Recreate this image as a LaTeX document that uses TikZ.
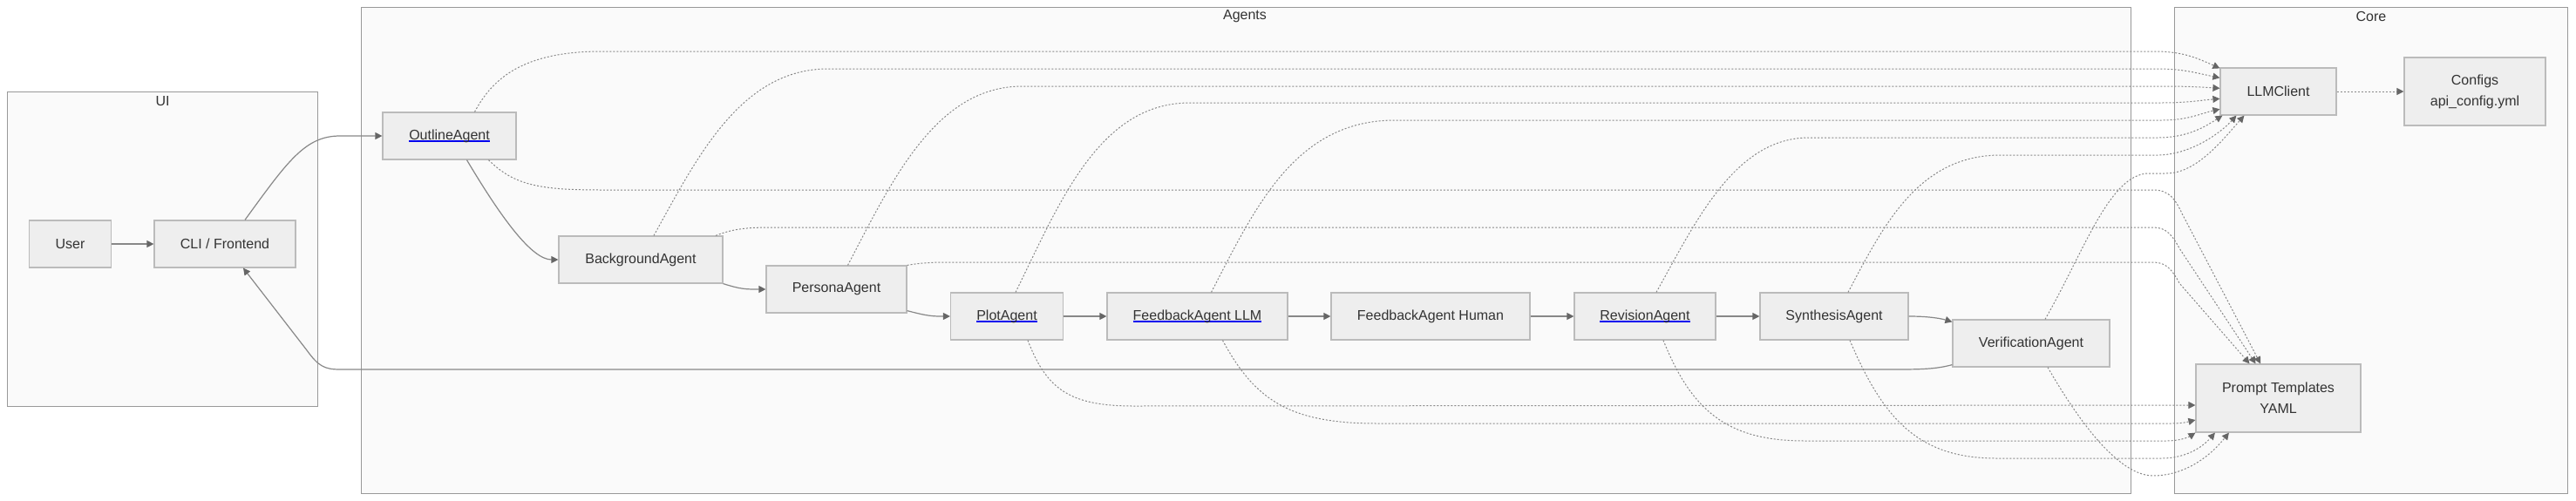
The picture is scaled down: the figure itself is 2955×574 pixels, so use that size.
\documentclass[tikz,border=0pt]{standalone}
\usepackage{fontspec}
\setmainfont{Liberation Sans}
\usetikzlibrary{arrows.meta}

\definecolor{clusterfill}{HTML}{FAFAFA}
\definecolor{clusterline}{HTML}{999999}
\definecolor{nodefill}{HTML}{EEEEEE}
\definecolor{nodeline}{HTML}{BBBBBB}
\definecolor{edgegray}{HTML}{888888}
\definecolor{tipgray}{HTML}{666666}
\definecolor{labelgray}{HTML}{333333}
\definecolor{linkblue}{HTML}{0000EE}

\newlength{\linkwd}
\newcommand{\agentlink}[1]{\settowidth{\linkwd}{#1}\rlap{\color{linkblue}\rule[-2.6pt]{\linkwd}{1.5pt}}#1}

\begin{document}
\begin{tikzpicture}[x=1pt, y=-1pt,
		every node/.style={font=\fontsize{16}{24}\selectfont, text=labelgray},
		cluster/.style={draw=clusterline, fill=clusterfill, line width=1pt},
		agent/.style={draw=nodeline, fill=nodefill, line width=1.2pt, minimum height=54pt, inner sep=0pt, align=center},
		flow/.style={draw=edgegray, line width=1.2pt, -{Triangle[length=8pt, width=8pt, color=tipgray]}},
		uses/.style={draw=edgegray, line width=1pt, dash pattern=on 2pt off 2pt, -{Triangle[length=8pt, width=8pt, color=tipgray]}}]
		\useasboundingbox (0,0) rectangle (2955,574);
		% subgraphs
		\draw[cluster] (8.5,105) rectangle (364.5,466);
		\draw[cluster] (414.5,8) rectangle (2444,566);
		\draw[cluster] (2494.5,8) rectangle (2945,566);
		\node (uititle) at (186.5,116) {UI};
		\node (agentstitle) at (1428,19) {Agents};
		\node (coretitle) at (2720,19) {Core};
		% UI
		\node[agent, minimum width=94pt] (user) at (80.5,280) {User};
		\node[agent, minimum width=162pt] (cli) at (258,280) {CLI / Frontend};
		% Agents
		\node[agent, minimum width=153pt] (outline) at (515.5,156) {\agentlink{OutlineAgent}};
		\node[agent, minimum width=188pt] (background) at (735,298) {BackgroundAgent};
		\node[agent, minimum width=161pt] (persona) at (959.5,332) {PersonaAgent};
		\node[agent, minimum width=129pt] (plot) at (1155,363) {\agentlink{PlotAgent}};
		\node[agent, minimum width=207pt] (fbllm) at (1373.5,363) {\agentlink{FeedbackAgent LLM}};
		\node[agent, minimum width=228pt] (fbhuman) at (1641,363) {FeedbackAgent Human};
		\node[agent, minimum width=162pt] (revision) at (1887,363) {\agentlink{RevisionAgent}};
		\node[agent, minimum width=170pt] (synthesis) at (2104,363) {SynthesisAgent};
		\node[agent, minimum width=180pt] (verification) at (2330,394) {VerificationAgent};
		% Core
		\node[agent, minimum width=133pt] (llm) at (2613.5,105) {LLMClient};
		\node[agent, minimum width=162pt, minimum height=78pt] (configs) at (2839,105) {Configs\\api\_config.yml};
		\node[agent, minimum width=189pt, minimum height=78pt] (pt) at (2613.5,457) {Prompt Templates\\YAML};

		% pipeline
		\draw[flow] (user) -- (cli);
		\draw[flow] ([xshift=23pt]cli.north) .. controls (330,185) and (350,156) .. (390,156) -- (outline);
		\draw[flow] ([xshift=20pt]outline.south) .. controls (575,250) and (610,298) .. (background.west);
		\draw[flow] (background.south east) .. controls (850,332) and (855,332) .. (persona.west);
		\draw[flow] ([yshift=3pt]persona.south east) .. controls (1065,363) and (1070,363) .. (plot.west);
		\draw[flow] (plot) -- (fbllm);
		\draw[flow] (fbllm) -- (fbhuman);
		\draw[flow] (fbhuman) -- (revision);
		\draw[flow] (revision) -- (synthesis);
		\draw[flow] (synthesis.east) .. controls (2215,363) and (2228,366) .. ([yshift=-3pt]verification.north west);
		\draw[flow] ([yshift=3pt]verification.south west) .. controls (2220,424) and (2200,424) .. (2170,424) -- (390,424) .. controls (372,424) and (365,420) .. (352,402) -- ([xshift=21pt]cli.south);
		\draw[uses] (llm) -- (configs);

		% agents -> LLMClient
		\draw[uses] ([xshift=29pt]outline.north) .. controls (565,90) and (600,59) .. (690,59) -- (2470,59) .. controls (2500,59) and (2515,64) .. ([yshift=-1pt]llm.north west);
		\draw[uses] ([xshift=15pt]background.north) .. controls (800,180) and (850,79) .. (950,79) -- (2475,79) .. controls (2505,79) and (2520,84) .. ([yshift=15.7pt]llm.west);
		\draw[uses] ([xshift=13pt]persona.north) .. controls (1023,208) and (1073,99) .. (1173,99) -- (2480,99) .. controls (2510,99) and (2525,100) .. ([yshift=3.7pt]llm.west);
		\draw[uses] ([xshift=10pt]plot.north) .. controls (1215,234) and (1260,118) .. (1365,118) -- (2480,118) .. controls (2510,118) and (2525,115) .. ([yshift=-8.3pt]llm.west);
		\draw[uses] ([xshift=16pt]fbllm.north) .. controls (1439,240) and (1485,138) .. (1600,138) -- (2480,138) .. controls (2510,138) and (2525,130) .. ([yshift=-20.3pt]llm.west);
		\draw[uses] ([xshift=13pt]revision.north) .. controls (1945,255) and (1990,158) .. (2075,158) -- (2475,158) .. controls (2510,158) and (2530,145) .. ([xshift=3pt]llm.south west);
		\draw[uses] ([xshift=16pt]synthesis.north) .. controls (2160,260) and (2200,178) .. (2295,178) -- (2475,178) .. controls (2510,178) and (2545,155) .. ([xshift=19pt]llm.south west);
		\draw[uses] ([xshift=16pt]verification.north) .. controls (2390,290) and (2420,199) .. (2465,199) -- (2485,199) .. controls (2520,199) and (2550,160) .. ([xshift=28pt]llm.south west);

		% agents -> Prompt Templates
		\draw[uses] ([xshift=45pt]outline.south) .. controls (590,213) and (620,218) .. (690,218) -- (2470,218) .. controls (2488,218) and (2495,228) .. (2503,245) -- ([xshift=-20.5pt]pt.north);
		\draw[uses] ([xshift=86pt]background.north) .. controls (840,263) and (855,261) .. (885,261) -- (2470,261) .. controls (2485,261) and (2492,270) .. (2500,285) -- ([xshift=-26pt]pt.north);
		\draw[uses] (persona.north east) .. controls (1055,302) and (1065,301) .. (1090,301) -- (2470,301) .. controls (2485,301) and (2492,310) .. (2500,325) -- ([xshift=-33pt]pt.north);
		\draw[uses] ([xshift=24pt]plot.south) .. controls (1200,445) and (1225,466) .. (1300,466) -- ([yshift=-8pt]pt.west);
		\draw[uses] ([xshift=29pt]fbllm.south) .. controls (1440,460) and (1480,486) .. (1580,486) -- (2490,486) .. controls (2505,486) and (2510,484) .. ([yshift=-25pt]pt.west);
		\draw[uses] ([xshift=21pt]revision.south) .. controls (1940,470) and (1980,506) .. (2070,506) -- (2485,506) .. controls (2500,506) and (2510,502) .. (pt.south west);
		\draw[uses] ([xshift=18pt]synthesis.south) .. controls (2160,480) and (2200,526) .. (2290,526) -- (2480,526) .. controls (2505,526) and (2525,515) .. ([xshift=22.5pt]pt.south west);
		\draw[uses] ([xshift=19pt]verification.south) .. controls (2400,510) and (2440,546) .. (2470,546) .. controls (2500,546) and (2530,530) .. ([xshift=38.5pt]pt.south west);
\end{tikzpicture}
\end{document}
